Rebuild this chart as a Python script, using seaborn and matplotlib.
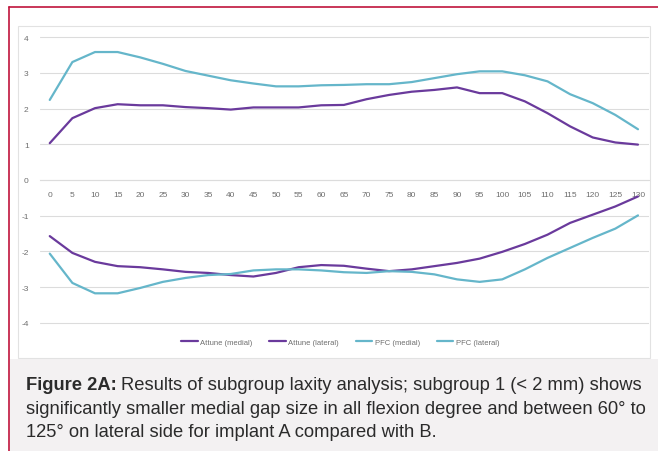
import pandas as pd
import matplotlib.pyplot as plt
import seaborn as sns
from matplotlib.patches import Rectangle
from matplotlib.lines import Line2D

sns.set_theme(style="white", context="paper")
plt.rcParams["font.family"] = ["Liberation Sans", "DejaVu Sans"]
plt.rcParams["axes.unicode_minus"] = False

# flexion angles (degrees)
angles = list(range(0, 135, 5))

attune_medial = [-1.57, -2.04, -2.29, -2.41, -2.44, -2.50, -2.57, -2.60, -2.66, -2.70,
                 -2.60, -2.44, -2.38, -2.40, -2.48, -2.55, -2.50, -2.41, -2.32, -2.20,
                 -2.01, -1.79, -1.53, -1.20, -0.97, -0.74, -0.46]
attune_lateral = [1.03, 1.73, 2.01, 2.12, 2.09, 2.09, 2.04, 2.01, 1.97, 2.03,
                  2.03, 2.03, 2.09, 2.10, 2.26, 2.38, 2.47, 2.52, 2.59, 2.43,
                  2.43, 2.20, 1.87, 1.50, 1.19, 1.05, 0.99]
pfc_medial = [-2.06, -2.88, -3.17, -3.17, -3.02, -2.85, -2.74, -2.66, -2.63, -2.53,
              -2.50, -2.50, -2.53, -2.58, -2.60, -2.55, -2.57, -2.64, -2.78, -2.85,
              -2.78, -2.50, -2.18, -1.90, -1.62, -1.36, -0.99]
pfc_lateral = [2.24, 3.30, 3.58, 3.58, 3.43, 3.25, 3.05, 2.92, 2.79, 2.70,
               2.62, 2.62, 2.65, 2.66, 2.68, 2.68, 2.74, 2.85, 2.96, 3.04,
               3.04, 2.93, 2.76, 2.40, 2.15, 1.82, 1.42]

series_names = ["Attune (medial)", "Attune (lateral)", "PFC (medial)", "PFC (lateral)"]
series_values = [attune_medial, attune_lateral, pfc_medial, pfc_lateral]
purple = "#6a3a9c"
cyan = "#65b6ca"
palette = {"Attune (medial)": purple, "Attune (lateral)": purple,
           "PFC (medial)": cyan, "PFC (lateral)": cyan}

df = pd.concat(
    [pd.DataFrame({"angle": angles, "gap": v, "series": n}) for n, v in zip(series_names, series_values)],
    ignore_index=True,
)

W, H = 658, 452
fig = plt.figure(figsize=(W / 100, H / 100), dpi=100)
fig.patch.set_facecolor("white")

def fx(px):
    return px / W

def fy(py):
    return 1 - py / H

# caption background
fig.patches.append(Rectangle((fx(10), 0), fx(W - 10), fy(360), transform=fig.transFigure,
                             facecolor="#f3f1f2", edgecolor="none", zorder=-10))
# chart picture frame
fig.patches.append(Rectangle((fx(18), fy(359)), fx(632), fy(27) - fy(359), transform=fig.transFigure,
                             facecolor="white", edgecolor="#e2e2e2", lw=0.8, zorder=-10))
# red border
fig.lines.append(Line2D([fx(9), 1], [fy(8), fy(8)], transform=fig.transFigure, color="#c0143c", lw=1.2))
fig.lines.append(Line2D([fx(9), fx(9)], [fy(8), 0], transform=fig.transFigure, color="#c0143c", lw=1.2))

# axes: x 0 -> px 50, 130 -> px 638 ; y 4 -> px 38, -4 -> px 324
ax = fig.add_axes([fx(39.8), fy(334.7), fx(649.3 - 39.8), fy(27.3) - fy(334.7)])
ax.set_facecolor("none")
ax.set_zorder(5)

sns.lineplot(data=df, x="angle", y="gap", hue="series", palette=palette, ax=ax,
             linewidth=1.6, legend=False)

ax.set_xlim(-2.2, 132.5)
ax.set_ylim(-4.3, 4.3)
ax.set_yticks(range(-4, 5))
ax.set_xticks(angles)
ax.yaxis.grid(True, color="#dcdcdc", lw=0.8)
ax.set_axisbelow(True)
for s in ["top", "right", "left"]:
    ax.spines[s].set_visible(False)
ax.spines["bottom"].set_position(("data", 0))
ax.spines["bottom"].set_color("#dcdcdc")
ax.spines["bottom"].set_linewidth(0.8)
ax.tick_params(axis="both", length=0, labelsize=6, labelcolor="#6e6e6e")
ax.tick_params(axis="x", pad=8)
ax.tick_params(axis="y", pad=8)
ax.set_xlabel("")
ax.set_ylabel("")

handles = [Line2D([], [], color=palette[n], lw=1.6) for n in series_names]
fig.legend(handles, series_names, loc="center", bbox_to_anchor=(fx(340), fy(343)), ncol=4,
           frameon=False, fontsize=5.5, labelcolor="#6e6e6e", handlelength=2.2,
           handletextpad=0.3, columnspacing=2.2)

# caption
cap_size = 13.25
renderer = fig.canvas.get_renderer()
t = fig.text(fx(26), fy(386), "Figure 2A:", fontsize=cap_size, fontweight="bold",
             color="#2b2b2b", va="center", ha="left")
bb = t.get_window_extent(renderer=renderer)
fig.text(bb.x1 / W + fx(4), fy(386), "Results of subgroup laxity analysis; subgroup 1 (< 2 mm) shows",
         fontsize=cap_size, color="#2b2b2b", va="center", ha="left")
fig.text(fx(26), fy(410), "significantly smaller medial gap size in all flexion degree and between 60\u00b0 to",
         fontsize=cap_size, color="#2b2b2b", va="center", ha="left")
fig.text(fx(26), fy(433), "125\u00b0 on lateral side for implant A compared with B.",
         fontsize=cap_size, color="#2b2b2b", va="center", ha="left")

fig.savefig("out.png", dpi=100)
